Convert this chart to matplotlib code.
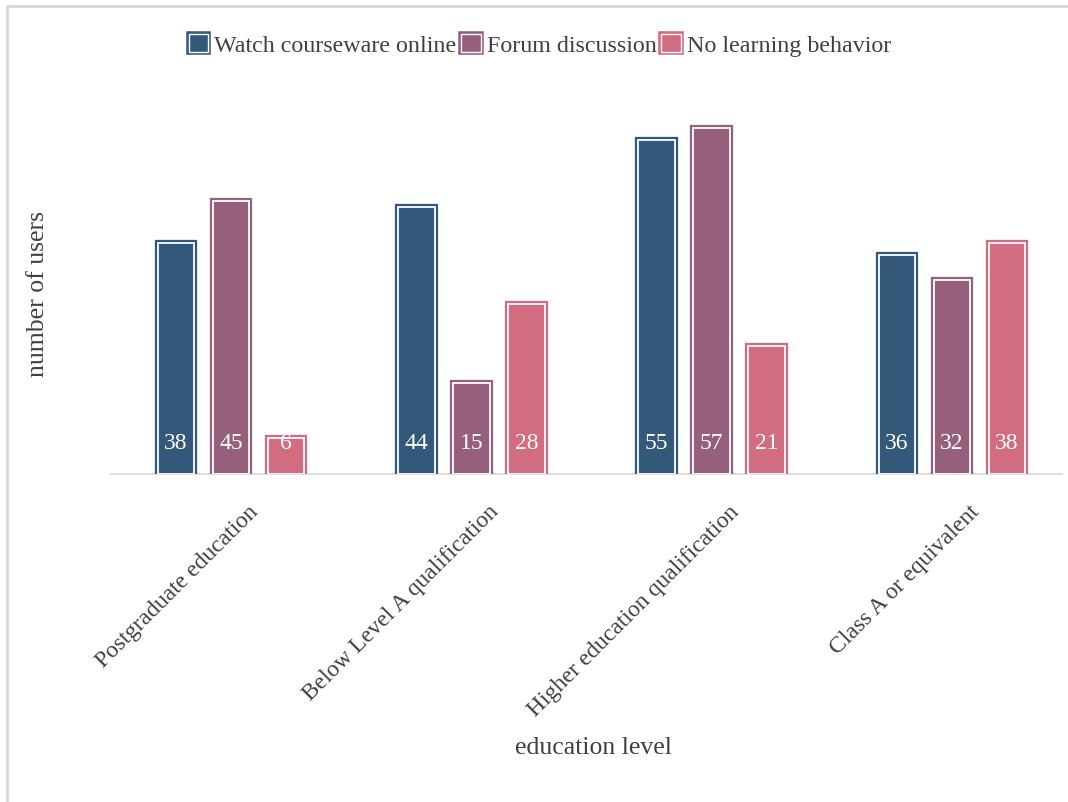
import matplotlib.pyplot as plt
import matplotlib.patches as mpatches
import matplotlib.patheffects as pe
from matplotlib.transforms import ScaledTranslation
import numpy as np

plt.rcParams['font.family'] = ['Liberation Serif', 'DejaVu Serif']

# data
categories = ['Postgraduate education', 'Below Level A qualification',
              'Higher education qualification', 'Class A or equivalent']
series = ['Watch courseware online', 'Forum discussion', 'No learning behavior']
watch = [38, 44, 55, 36]
forum = [45, 15, 57, 32]
no_learn = [6, 28, 21, 38]
colors = ['#34587A', '#96607C', '#D26C80']

fig = plt.figure(figsize=(10.68, 8.03), dpi=100)
ax = fig.add_axes([110.9 / 1068, 0.4085, 961.2 / 1068, 0.4919])

# light frame around the chart area (left and top visible)
fig.add_artist(mpatches.Rectangle((7 / 1068, -0.1), 1.2, 1 - 7 / 803 + 0.1,
                                  transform=fig.transFigure, fill=False,
                                  edgecolor='#D9D9D9', linewidth=2))

x = np.arange(len(categories))
width = 0.152
step = 0.229
values = [watch, forum, no_learn]

for i, (vals, col) in enumerate(zip(values, colors)):
    pos = x + (i - 1) * step
    ax.bar(pos, vals, width, color=col, edgecolor=col, linewidth=4.5, zorder=2)
    ax.bar(pos, vals, width, fill=False, edgecolor='white', linewidth=1.3, zorder=3)
    for p, v in zip(pos, vals):
        ax.text(p, 5.2, str(v), ha='center', va='center', color='white',
                fontsize=17, zorder=4)

ax.set_xlim(-0.5, 3.5)
ax.set_ylim(0, 65)
for s in ['top', 'right', 'left', 'bottom']:
    ax.spines[s].set_visible(False)
ax.axhline(0, xmin=0, xmax=(1062 - 110.9) / 961.2, color='#D9D9D9',
           linewidth=1.2, zorder=1, clip_on=False)
ax.set_yticks([])
ax.set_xticks(x)
ax.set_xticklabels(categories, rotation=45, ha='right', rotation_mode='anchor',
                   fontsize=17, color='#404040')
ax.tick_params(axis='x', length=0, pad=12)
for lbl in ax.get_xticklabels():
    lbl.set_transform(lbl.get_transform() +
                      ScaledTranslation(0.17, -0.10, fig.dpi_scale_trans))

fig.text(38 / 1068, 1 - 294 / 803, 'number of users', rotation=90, ha='center',
         va='center', fontsize=18.5, color='#404040')
fig.text(593 / 1068, 1 - 748 / 803, 'education level', ha='center', va='center',
         fontsize=18.5, color='#404040')

handles = [mpatches.Patch(facecolor=c, edgecolor='white', linewidth=1,
                          path_effects=[pe.withStroke(linewidth=4, foreground=c)])
           for c in colors]
fig.legend(handles, series, loc='center', bbox_to_anchor=(540 / 1068, 1 - 46 / 803),
           ncol=3, frameon=False, fontsize=17.3, handlelength=0.8, handleheight=0.8,
           handletextpad=0.25, columnspacing=0.2, labelcolor='#404040')

fig.savefig('out.png', dpi=100)
